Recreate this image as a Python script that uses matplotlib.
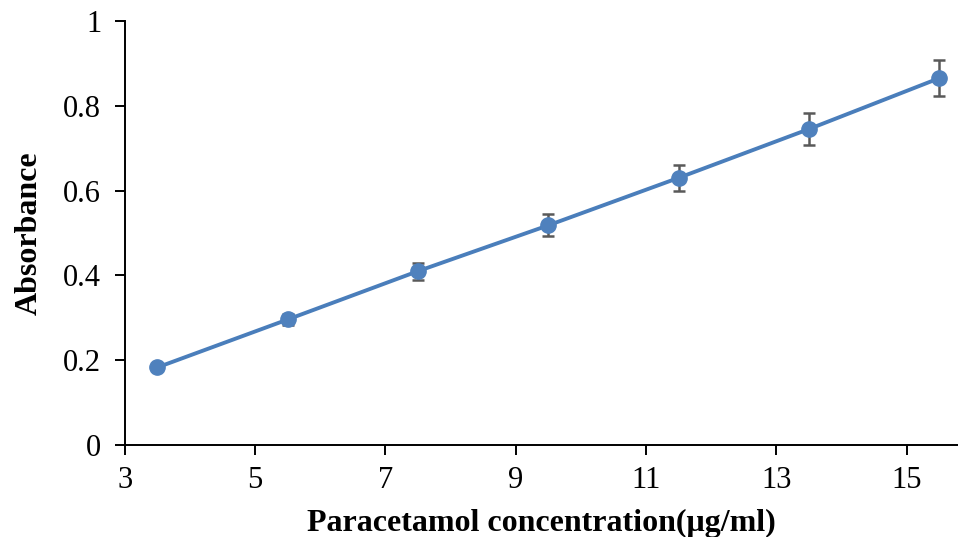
import matplotlib
matplotlib.use("Agg")
import matplotlib.pyplot as plt

conc = [3.5, 5.5, 7.5, 9.5, 11.5, 13.5, 15.5]
absorbance = [0.183, 0.296, 0.410, 0.518, 0.630, 0.745, 0.865]
err = [0.004, 0.012, 0.020, 0.026, 0.031, 0.037, 0.043]
xticks = [3, 5, 7, 9, 11, 13, 15]
yticks = [0, 0.2, 0.4, 0.6, 0.8, 1]
yticklabels = ["0", "0.2", "0.4", "0.6", "0.8", "1"]

plt.rcParams['font.family'] = ['Liberation Serif', 'DejaVu Serif']

fig = plt.figure(figsize=(9.58, 5.37), dpi=100)
ax = fig.add_axes([124.8/958, 1-445/537, 1-124.8/958, (445-21)/537])

ax.errorbar(conc, absorbance, yerr=err, fmt='none', ecolor='#595959',
            elinewidth=1.8, capsize=4.5, capthick=1.8, zorder=2)
ax.plot(conc, absorbance, '-o', color='#4A7EBB', lw=2.8, markersize=11,
        markerfacecolor='#4F81BD', markeredgecolor='#4F81BD', zorder=3)

ax.set_xlim(3, 15.79)
ax.set_ylim(0, 1)
ax.set_xticks(xticks)
ax.set_yticks(yticks)
ax.set_yticklabels(yticklabels)
ax.tick_params(axis='both', direction='out', length=7, width=1.4, labelsize=22, color='black')
ax.tick_params(axis='x', pad=8)
ax.tick_params(axis='y', pad=10)
for s in ['top', 'right']:
    ax.spines[s].set_visible(False)
for s in ['left', 'bottom']:
    ax.spines[s].set_linewidth(1.4)
ax.spines['left'].set_bounds(0, 1)

ax.set_xlabel('Paracetamol concentration(μg/ml)', fontsize=23, fontweight='bold', labelpad=10)
ax.set_ylabel('Absorbance', fontsize=23, fontweight='bold', labelpad=14)

fig.savefig('out.png', dpi=100)
